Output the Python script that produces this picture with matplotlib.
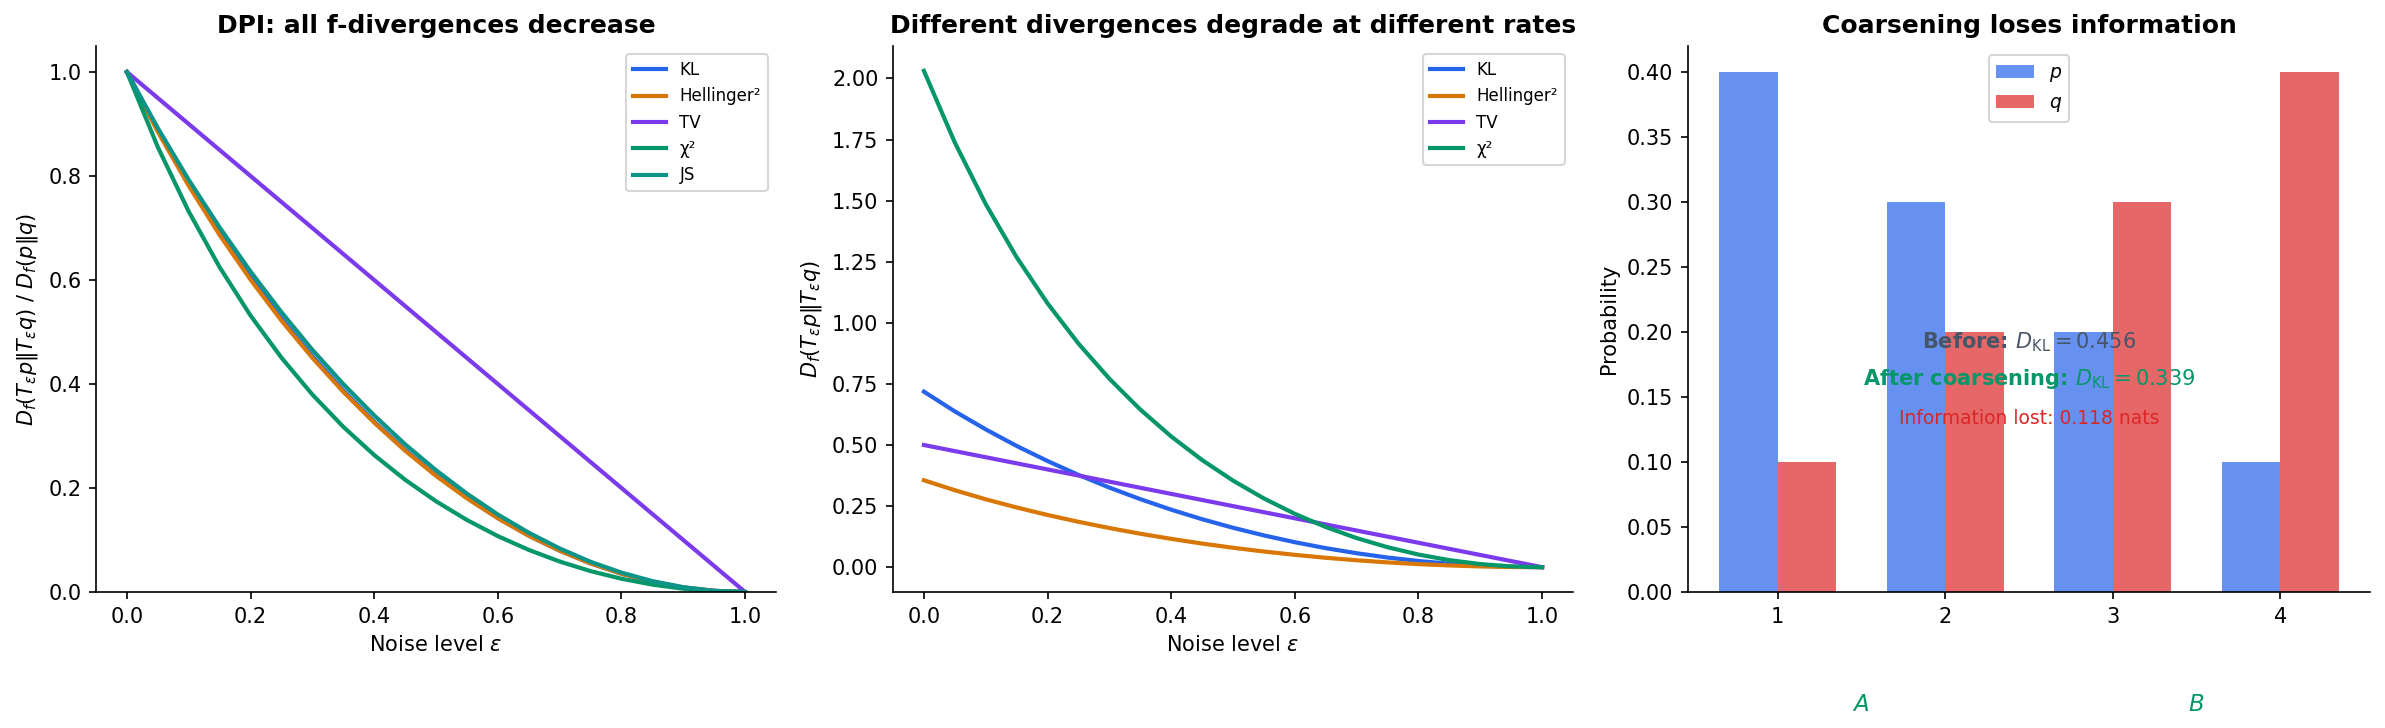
import matplotlib
matplotlib.use("Agg")
import matplotlib.pyplot as plt
import numpy as np

# ---------------- data ----------------
eps = [0.0, 0.05, 0.1, 0.15, 0.2, 0.25, 0.3, 0.35, 0.4, 0.45, 0.5,
       0.55, 0.6, 0.65, 0.7, 0.75, 0.8, 0.85, 0.9, 0.95, 1.0]

# Panel 1: divergences normalised by their value at eps = 0
kl_norm = [1.0, 0.8875, 0.7849, 0.6907, 0.6047, 0.5256, 0.4534, 0.3877, 0.3275, 0.2734,
           0.2245, 0.1811, 0.1423, 0.1084, 0.0795, 0.0550, 0.0352, 0.0198, 0.0086, 0.0022, 0.0]
hel_norm = [1.0, 0.8850, 0.7811, 0.6866, 0.6006, 0.5219, 0.4503, 0.3850, 0.3258, 0.2718,
            0.2234, 0.1802, 0.1419, 0.1082, 0.0795, 0.0551, 0.0351, 0.0200, 0.0087, 0.0022, 0.0]
tv_norm = [1.0, 0.95, 0.9, 0.85, 0.8, 0.75, 0.7, 0.65, 0.6, 0.55, 0.5,
           0.45, 0.4, 0.35, 0.3, 0.25, 0.2, 0.15, 0.1, 0.05, 0.0]
chi_norm = [1.0, 0.8556, 0.7317, 0.6246, 0.5316, 0.4506, 0.3797, 0.3177, 0.2634, 0.2159,
            0.1745, 0.1385, 0.1075, 0.0810, 0.0586, 0.0402, 0.0255, 0.0142, 0.0063, 0.0016, 0.0]
js_norm = [1.0, 0.8922, 0.7926, 0.7011, 0.6164, 0.5381, 0.4658, 0.3999, 0.3396, 0.2841,
           0.2342, 0.1892, 0.1491, 0.1141, 0.0838, 0.0581, 0.0373, 0.0209, 0.0093, 0.0023, 0.0]

# Panel 2: raw divergences
kl_raw = [0.7184, 0.6376, 0.5639, 0.4962, 0.4344, 0.3776, 0.3257, 0.2785, 0.2353, 0.1964,
          0.1613, 0.1301, 0.1022, 0.0779, 0.0571, 0.0395, 0.0253, 0.0142, 0.0062, 0.0016, 0.0]
hel_raw = [0.3558, 0.3149, 0.2779, 0.2443, 0.2137, 0.1857, 0.1602, 0.1370, 0.1159, 0.0967,
           0.0795, 0.0641, 0.0505, 0.0385, 0.0283, 0.0196, 0.0125, 0.0071, 0.0031, 0.0008, 0.0]
tv_raw = [0.5, 0.475, 0.45, 0.425, 0.4, 0.375, 0.35, 0.325, 0.3, 0.275, 0.25,
          0.225, 0.2, 0.175, 0.15, 0.125, 0.1, 0.075, 0.05, 0.025, 0.0]
chi_raw = [2.0313, 1.7378, 1.4860, 1.2685, 1.0797, 0.9151, 0.7713, 0.6453, 0.5350, 0.4385,
           0.3544, 0.2813, 0.2183, 0.1644, 0.1191, 0.0817, 0.0517, 0.0288, 0.0127, 0.0032, 0.0]

# Panel 3: distributions
outcomes = [1, 2, 3, 4]
p_vals = [0.4, 0.3, 0.2, 0.1]
q_vals = [0.1, 0.2, 0.3, 0.4]
kl_before = 0.456
kl_after = 0.339
info_lost = 0.118
group_labels = ["A", "B"]
group_pos = [1.5, 3.5]

# ---------------- style ----------------
C_KL = "#2563eb"
C_HEL = "#d97706"
C_TV = "#7c3aed"
C_CHI = "#059669"
C_JS = "#0d9488"
C_P = "#2563eb"
C_Q = "#dc2626"
C_SLATE = "#475569"

fig = plt.figure(figsize=(15.9, 728 / 150), dpi=150)
W, H = 2385, 728
def pos(l, r, t, b):
    return [l / W, 1 - b / H, (r - l) / W, (b - t) / H]

ax1 = fig.add_axes(pos(96, 776, 46, 592))
ax2 = fig.add_axes(pos(893, 1573, 46, 592))
ax3 = fig.add_axes(pos(1688, 2370, 46, 592))

lw = 2
# Panel 1
ax1.plot(eps, kl_norm, color=C_KL, lw=lw, label="KL")
ax1.plot(eps, hel_norm, color=C_HEL, lw=lw, label="Hellinger²")
ax1.plot(eps, tv_norm, color=C_TV, lw=lw, label="TV")
ax1.plot(eps, chi_norm, color=C_CHI, lw=lw, label="χ²")
ax1.plot(eps, js_norm, color=C_JS, lw=lw, label="JS")
ax1.set_ylim(0, 1.05)
ax1.set_xlabel(r"Noise level $\varepsilon$")
ax1.set_ylabel(r"$D_f(T_\varepsilon p \| T_\varepsilon q)$ / $D_f(p \| q)$")
ax1.set_title("DPI: all f-divergences decrease", fontweight="bold", fontsize=12)
ax1.legend(loc="upper right", fontsize=8)

# Panel 2
ax2.plot(eps, kl_raw, color=C_KL, lw=lw, label="KL")
ax2.plot(eps, hel_raw, color=C_HEL, lw=lw, label="Hellinger²")
ax2.plot(eps, tv_raw, color=C_TV, lw=lw, label="TV")
ax2.plot(eps, chi_raw, color=C_CHI, lw=lw, label="χ²")
ax2.set_xlabel(r"Noise level $\varepsilon$")
ax2.set_ylabel(r"$D_f(T_\varepsilon p \| T_\varepsilon q)$")
ax2.set_title("Different divergences degrade at different rates", fontweight="bold", fontsize=12)
ax2.legend(loc="upper right", fontsize=8)

# Panel 3
x = np.array(outcomes, dtype=float)
bw = 0.35
ax3.bar(x - bw / 2, p_vals, bw, color=C_P, alpha=0.7, label="$p$")
ax3.bar(x + bw / 2, q_vals, bw, color=C_Q, alpha=0.7, label="$q$")
ax3.set_xticks(outcomes)
ax3.set_ylabel("Probability")
ax3.set_title("Coarsening loses information", fontweight="bold", fontsize=12)
ax3.legend(loc="upper center", fontsize=9)
ax3.text(2.5, 0.1925, r"Before: $D_{\rm KL} = %.3f$" % kl_before, ha="center", va="center",
         fontsize=10, fontweight="bold", color=C_SLATE)
ax3.text(2.5, 0.1635, r"After coarsening: $D_{\rm KL} = %.3f$" % kl_after, ha="center", va="center",
         fontsize=10, fontweight="bold", color=C_CHI)
ax3.text(2.5, 0.1335, "Information lost: %.3f nats" % info_lost, ha="center", va="center",
         fontsize=9, color=C_Q)
for gx, gl in zip(group_pos, group_labels):
    ax3.text(gx, -0.0865, gl, ha="center", va="center", fontsize=11, color=C_CHI, style="italic")

for ax in (ax1, ax2, ax3):
    ax.spines["top"].set_visible(False)
    ax.spines["right"].set_visible(False)

fig.savefig("out.png", dpi=150)
